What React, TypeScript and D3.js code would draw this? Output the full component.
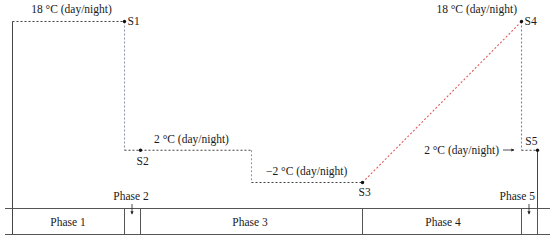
import React from "react";
import * as d3 from "d3";

// Timeline (days, arbitrary units) and temperature (°C)
const phaseNames = ["Phase 1", "Phase 2", "Phase 3", "Phase 4", "Phase 5"];
const phaseBounds = [0, 112, 128, 350, 509, 525];
const stepDayOfMinus2 = 239;
const stageNames = ["S1", "S2", "S3", "S4", "S5"];
const stageDays = [112, 128, 350, 509, 525];
const stageTemps = [18, 2, -2, 18, 2];
const tempLabels = ["18 °C (day/night)", "2 °C (day/night)", "−2 °C (day/night)", "18 °C (day/night)", "2 °C (day/night)"];

const W = 550, H = 241;
const x = d3.scaleLinear().domain([0, 525]).range([12.5, 537.5]);
const y = d3.scaleLinear().domain([-2, 18]).range([182.5, 21.5]);
const tableTop = 208.5, tableBot = 234.5;

const line = d3.line<[number, number]>().x(d => x(d[0])).y(d => y(d[1]));

export default function App() {
  const serif = "Liberation Serif, Times New Roman, Times, serif";
  const dash = "2,2";
  const segs: { pts: [number, number][]; color: string }[] = [
    { pts: [[0, stageTemps[0]], [stageDays[0], stageTemps[0]]], color: "#444" },
    { pts: [[stageDays[0], stageTemps[0]], [stageDays[0], stageTemps[1]]], color: "#8d93b3" },
    { pts: [[stageDays[0], stageTemps[1]], [stepDayOfMinus2, stageTemps[1]]], color: "#444" },
    { pts: [[stepDayOfMinus2, stageTemps[1]], [stepDayOfMinus2, stageTemps[2]]], color: "#999" },
    { pts: [[stepDayOfMinus2, stageTemps[2]], [stageDays[2], stageTemps[2]]], color: "#444" },
    { pts: [[stageDays[2], stageTemps[2]], [stageDays[3], stageTemps[3]]], color: "#e05a5a" },
    { pts: [[stageDays[3], stageTemps[3]], [stageDays[3], stageTemps[4]]], color: "#7a7acb" },
    { pts: [[stageDays[3], stageTemps[4]], [stageDays[4], stageTemps[4]]], color: "#444" },
  ];
  const fs = 11.5;
  const phaseCenters = [68, 132, 250, 443, 529];
  return (
    <svg width={W} height={H} style={{ position: "absolute", left: 0, top: 0, background: "#fff", fontFamily: serif, fontSize: fs }} fill="#1a1a1a">
      <defs>
        <marker id="ah" viewBox="0 0 6 6" refX="5" refY="3" markerWidth="4" markerHeight="4" orient="auto">
          <path d="M0,0 L6,3 L0,6 z" fill="#222" />
        </marker>
      </defs>
      {/* solid start/end verticals */}
      <line x1={x(0)} x2={x(0)} y1={y(stageTemps[0])} y2={tableBot} stroke="#444" strokeWidth={1} />
      <line x1={x(stageDays[4])} x2={x(stageDays[4])} y1={y(stageTemps[4])} y2={tableBot} stroke="#444" strokeWidth={1} />
      {/* table */}
      <line x1={5} x2={W} y1={tableTop} y2={tableTop} stroke="#555" strokeWidth={1} />
      <line x1={5} x2={W} y1={tableBot} y2={tableBot} stroke="#555" strokeWidth={1} />
      {phaseBounds.slice(1).map((b, i) => (
        <line key={i} x1={x(b)} x2={x(b)} y1={tableTop} y2={tableBot} stroke="#555" strokeWidth={1} />
      ))}
      {/* temperature path */}
      {segs.map((s, i) => (
        <path key={i} d={line(s.pts) || ""} fill="none" stroke={s.color} strokeWidth={1.1} strokeDasharray={dash} />
      ))}
      {stageDays.map((d, i) => (
        <circle key={i} cx={x(d)} cy={y(stageTemps[i])} r={1.7} fill="#111" />
      ))}
      {/* stage labels */}
      <text x={x(stageDays[0]) + 3} y={25}>{stageNames[0]}</text>
      <text x={x(stageDays[1]) - 4} y={165}>{stageNames[1]}</text>
      <text x={x(stageDays[2]) - 4} y={196}>{stageNames[2]}</text>
      <text x={x(stageDays[3]) + 3} y={25}>{stageNames[3]}</text>
      <text x={x(stageDays[4])} y={145} textAnchor="end">{stageNames[4]}</text>
      {/* temperature labels */}
      <text x={71.5} y={13} textAnchor="middle">{tempLabels[0]}</text>
      <text x={191.5} y={143} textAnchor="middle">{tempLabels[1]}</text>
      <text x={266} y={175}>{tempLabels[2]}</text>
      <text x={517} y={13} textAnchor="end">{tempLabels[3]}</text>
      <text x={499} y={154} textAnchor="end">{tempLabels[4]}</text>
      <line x1={503} x2={514} y1={150} y2={150} stroke="#222" strokeWidth={0.8} markerEnd="url(#ah)" />
      {/* phase labels */}
      <text x={phaseCenters[0]} y={226} textAnchor="middle">{phaseNames[0]}</text>
      <text x={131} y={200} textAnchor="middle">{phaseNames[1]}</text>
      <line x1={132} x2={132} y1={204} y2={214} stroke="#222" strokeWidth={0.8} markerEnd="url(#ah)" />
      <text x={phaseCenters[2]} y={226} textAnchor="middle">{phaseNames[2]}</text>
      <text x={phaseCenters[3]} y={226} textAnchor="middle">{phaseNames[3]}</text>
      <text x={535} y={200} textAnchor="end">{phaseNames[4]}</text>
      <line x1={529} x2={529} y1={204} y2={214} stroke="#222" strokeWidth={0.8} markerEnd="url(#ah)" />
    </svg>
  );
}
